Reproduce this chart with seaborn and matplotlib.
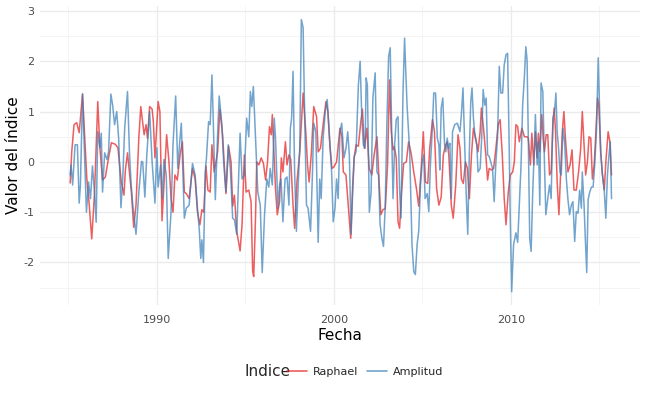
import numpy as np
import pandas as pd
import matplotlib
matplotlib.use("Agg")
import matplotlib.pyplot as plt
import seaborn as sns

# ---- data (decimal years) ----
raphael_t = [1985.10, 1985.19, 1985.32, 1985.47, 1985.61, 1985.80, 1986.04, 1986.18, 1986.32, 1986.48,
             1986.66, 1986.78, 1986.93, 1987.09, 1987.27, 1987.43, 1987.65, 1987.80, 1987.99, 1988.14,
             1988.22, 1988.34, 1988.56, 1988.69, 1988.82, 1988.98, 1989.09, 1989.28, 1989.39, 1989.47,
             1989.59, 1989.73, 1989.80, 1989.89, 1990.07, 1990.17, 1990.29, 1990.40, 1990.55, 1990.68,
             1990.80, 1990.91, 1991.02, 1991.15, 1991.31, 1991.44, 1991.55, 1991.66, 1991.82, 1992.01,
             1992.16, 1992.29, 1992.43, 1992.54, 1992.65, 1992.77, 1992.88, 1993.01, 1993.11, 1993.24,
             1993.43, 1993.56, 1993.71, 1993.90, 1994.05, 1994.19, 1994.28, 1994.38, 1994.51, 1994.70,
             1994.81, 1994.94, 1995.04, 1995.19, 1995.32, 1995.41, 1995.47, 1995.57, 1995.64, 1995.76,
             1995.89, 1996.02, 1996.14, 1996.25, 1996.36, 1996.46, 1996.52, 1996.61, 1996.70, 1996.80,
             1996.93, 1997.03, 1997.12, 1997.26, 1997.35, 1997.46, 1997.56, 1997.69, 1997.78, 1997.91,
             1998.07, 1998.26, 1998.41, 1998.51, 1998.60, 1998.73, 1998.86, 1999.02, 1999.11, 1999.24,
             1999.39, 1999.55, 1999.66, 1999.77, 1999.89, 2000.00, 2000.15, 2000.34, 2000.45, 2000.53,
             2000.68, 2000.81, 2000.95, 2001.06, 2001.14, 2001.25, 2001.38, 2001.52, 2001.61, 2001.72,
             2001.86, 2001.99, 2002.14, 2002.27, 2002.43, 2002.56, 2002.65, 2002.77, 2002.90, 2003.03,
             2003.14, 2003.24, 2003.34, 2003.41, 2003.52, 2003.62, 2003.71, 2003.82, 2003.94, 2004.09,
             2004.22, 2004.36, 2004.51, 2004.66, 2004.79, 2004.93, 2005.05, 2005.17, 2005.30, 2005.41,
             2005.57, 2005.68, 2005.80, 2005.93, 2006.06, 2006.18, 2006.31, 2006.40, 2006.49, 2006.63,
             2006.74, 2006.88, 2007.01, 2007.12, 2007.20, 2007.31, 2007.43, 2007.54, 2007.65, 2007.77,
             2007.88, 2008.01, 2008.14, 2008.26, 2008.33, 2008.45, 2008.58, 2008.68, 2008.77, 2008.90,
             2009.02, 2009.15, 2009.28, 2009.39, 2009.51, 2009.62, 2009.72, 2009.85, 2009.96, 2010.10,
             2010.19, 2010.28, 2010.38, 2010.47, 2010.62, 2010.76, 2010.91, 2010.98, 2011.10, 2011.18,
             2011.29, 2011.38, 2011.48, 2011.55, 2011.63, 2011.74, 2011.82, 2011.89, 2011.99, 2012.08,
             2012.18, 2012.27, 2012.37, 2012.44, 2012.52, 2012.61, 2012.71, 2012.80, 2012.90, 2012.99,
             2013.09, 2013.22, 2013.34, 2013.45, 2013.56, 2013.69, 2013.82, 2013.94, 2014.03, 2014.13,
             2014.22, 2014.32, 2014.41, 2014.51, 2014.60, 2014.70, 2014.77, 2014.89, 2014.96, 2015.07,
             2015.17, 2015.27, 2015.36, 2015.49, 2015.59, 2015.68]
raphael_v = [-0.42, 0.20, 0.74, 0.78, 0.58, 1.35, -0.32, -0.86, -1.53, -0.60,
             1.20, 0.28, -0.36, -0.30, 0.08, 0.38, 0.35, 0.28, -0.40, -0.66,
             -0.16, 0.18, -0.60, -1.30, -0.86, 0.48, 1.10, 0.54, 0.74, 0.47,
             1.10, 1.05, 0.80, 0.08, 1.20, 1.00, -1.17, -0.46, 0.54, 0.01,
             -0.73, -1.00, -0.26, -0.36, 0.14, 0.40, -0.60, -0.63, -0.73, -0.13,
             -0.34, -0.99, -1.25, -0.95, -1.00, -0.08, -0.56, -0.60, 0.34, -0.20,
             0.20, 1.05, 0.54, -0.63, 0.31, 0.00, -0.88, -0.66, -1.38, -1.77,
             -1.25, 0.14, -0.60, -0.56, -0.79, -2.18, -2.28, -1.12, 0.00, -0.06,
             0.08, -0.03, -0.36, 0.00, 0.70, 0.54, 0.94, 0.20, -0.53, -1.05,
             -0.79, 0.08, -0.20, 0.40, -0.06, 0.14, 0.05, -0.86, -1.32, -0.40,
             0.20, 1.37, 0.60, -0.06, -0.40, 0.20, 1.10, 0.90, 0.20, 0.27,
             0.74, 1.20, 1.00, 0.34, -0.13, -0.10, 0.00, 0.67, 0.50, -0.20,
             -0.26, -0.86, -1.52, -0.46, 0.08, 0.34, 0.31, 0.80, 1.05, 0.27,
             0.67, -0.13, -0.26, 0.14, 0.50, -0.46, -1.05, -0.95, -0.93, -0.06,
             1.63, 0.60, 0.24, 0.30, 0.08, -1.19, -1.32, -0.60, -0.03, 0.00,
             0.40, 0.17, -0.20, -0.53, -0.88, -0.13, 0.60, -0.40, -0.43, 0.27,
             0.84, 0.60, -0.53, -0.86, -0.70, 0.14, 0.34, 0.40, 0.14, -0.86,
             -1.12, -0.46, 0.54, 0.27, -0.34, -0.43, 0.00, -0.13, -0.73, 0.14,
             0.67, 0.47, 0.20, 0.60, 1.07, 0.67, 0.14, -0.36, -0.13, -0.16,
             -0.13, 0.27, 0.74, 0.84, 0.14, -0.73, -1.25, -0.60, -0.26, -0.20,
             0.00, 0.74, 0.70, 0.40, 0.67, 0.50, 0.50, 0.47, -0.06, 0.57,
             -0.06, 0.60, 0.08, 0.57, 0.20, 0.94, 0.47, 0.20, 0.54, 0.54,
             -0.26, -0.20, 0.74, 1.07, 0.60, -0.40, -1.05, -0.26, 0.60, 1.00,
             0.40, -0.20, -0.06, 0.24, -0.56, -0.56, -0.20, 0.27, 1.00, 0.34,
             -0.26, 0.00, 0.50, 0.47, -0.34, -0.06, 0.40, 1.27, 1.13, 0.20,
             -0.26, -0.56, 0.00, 0.60, 0.40, -0.26]

amplitud_t = [1985.10, 1985.15, 1985.24, 1985.38, 1985.51, 1985.61, 1985.68, 1985.80, 1986.02, 1986.14,
              1986.25, 1986.36, 1986.48, 1986.57, 1986.66, 1986.78, 1986.86, 1986.93, 1987.05, 1987.18,
              1987.27, 1987.40, 1987.50, 1987.61, 1987.73, 1987.84, 1987.97, 1988.07, 1988.18, 1988.34,
              1988.45, 1988.54, 1988.64, 1988.82, 1988.98, 1989.13, 1989.20, 1989.32, 1989.43, 1989.59,
              1989.73, 1989.89, 1990.00, 1990.07, 1990.21, 1990.30, 1990.40, 1990.53, 1990.64, 1990.80,
              1990.91, 1991.06, 1991.18, 1991.29, 1991.38, 1991.44, 1991.55, 1991.66, 1991.82, 1992.01,
              1992.16, 1992.29, 1992.39, 1992.48, 1992.54, 1992.63, 1992.73, 1992.80, 1992.92, 1993.01,
              1993.11, 1993.18, 1993.30, 1993.43, 1993.52, 1993.67, 1993.77, 1993.90, 1994.03, 1994.15,
              1994.28, 1994.38, 1994.51, 1994.70, 1994.81, 1994.94, 1995.07, 1995.19, 1995.28, 1995.36,
              1995.45, 1995.57, 1995.70, 1995.84, 1995.95, 1996.08, 1996.21, 1996.32, 1996.40, 1996.52,
              1996.63, 1996.70, 1996.84, 1996.93, 1997.01, 1997.12, 1997.24, 1997.35, 1997.46, 1997.54,
              1997.61, 1997.69, 1997.78, 1997.88, 1997.97, 1998.07, 1998.16, 1998.26, 1998.35, 1998.45,
              1998.54, 1998.68, 1998.79, 1998.86, 1998.98, 1999.11, 1999.20, 1999.28, 1999.39, 1999.51,
              1999.62, 1999.73, 1999.87, 1999.96, 2000.06, 2000.15, 2000.24, 2000.34, 2000.44, 2000.57,
              2000.68, 2000.78, 2000.87, 2000.97, 2001.06, 2001.15, 2001.25, 2001.38, 2001.48, 2001.57,
              2001.66, 2001.76, 2001.82, 2001.89, 2002.00, 2002.10, 2002.20, 2002.33, 2002.43, 2002.52,
              2002.61, 2002.71, 2002.80, 2002.90, 2002.99, 2003.09, 2003.18, 2003.28, 2003.34, 2003.43,
              2003.52, 2003.62, 2003.71, 2003.79, 2003.90, 2003.99, 2004.13, 2004.28, 2004.41, 2004.51,
              2004.60, 2004.70, 2004.79, 2004.89, 2004.98, 2005.07, 2005.15, 2005.27, 2005.36, 2005.45,
              2005.55, 2005.64, 2005.74, 2005.84, 2005.93, 2005.98, 2006.06, 2006.15, 2006.25, 2006.32,
              2006.40, 2006.48, 2006.55, 2006.63, 2006.70, 2006.82, 2006.97, 2007.12, 2007.20, 2007.29,
              2007.39, 2007.48, 2007.56, 2007.65, 2007.73, 2007.80, 2007.88, 2007.97, 2008.07, 2008.14,
              2008.26, 2008.35, 2008.43, 2008.52, 2008.60, 2008.68, 2008.77, 2008.86, 2008.96, 2009.05,
              2009.15, 2009.24, 2009.34, 2009.43, 2009.53, 2009.62, 2009.72, 2009.81, 2009.89, 2009.96,
              2010.04, 2010.15, 2010.28, 2010.38, 2010.47, 2010.57, 2010.66, 2010.76, 2010.84, 2010.91,
              2010.98, 2011.06, 2011.14, 2011.23, 2011.32, 2011.38, 2011.48, 2011.55, 2011.63, 2011.70,
              2011.80, 2011.89, 2011.97, 2012.08, 2012.18, 2012.27, 2012.37, 2012.46, 2012.54, 2012.61,
              2012.69, 2012.77, 2012.84, 2012.94, 2013.03, 2013.13, 2013.22, 2013.31, 2013.41, 2013.50,
              2013.60, 2013.69, 2013.79, 2013.88, 2013.98, 2014.03, 2014.13, 2014.20, 2014.28, 2014.36,
              2014.45, 2014.55, 2014.64, 2014.73, 2014.83, 2014.93, 2015.00, 2015.07, 2015.15, 2015.27,
              2015.36, 2015.45, 2015.53, 2015.61, 2015.68]
amplitud_v = [-0.26, -0.06, -0.46, 0.34, 0.34, -0.82, -0.46, 1.35, -1.00, -0.40,
              -0.73, -0.08, -0.63, -1.20, 0.60, 0.28, 0.57, -0.60, 0.18, 0.05,
              0.20, 1.35, 1.13, 0.74, 1.00, 0.47, -0.91, -0.34, 0.67, 1.40,
              0.20, -0.43, -0.86, -1.44, -0.60, 0.01, 0.00, -0.70, 0.14, 1.00,
              0.00, -0.82, 0.28, -0.50, -0.06, -0.73, 0.05, -0.26, -1.92, -0.99,
              0.34, 1.31, -0.13, 0.40, 0.77, 0.08, -1.12, -0.92, -0.86, -0.03,
              -0.26, -0.92, -1.32, -1.92, -1.55, -2.00, -0.20, 0.08, 0.80, 0.74,
              1.73, 0.87, -0.75, 0.54, 1.31, 0.74, 0.00, -0.60, 0.34, -0.13,
              -1.12, -1.15, -1.44, 0.57, -0.34, -0.26, 0.87, 0.50, 1.40, 1.10,
              1.50, 0.47, -0.60, -0.86, -2.20, -1.05, -0.34, -0.50, -0.13, -0.46,
              0.87, 0.47, -0.92, -0.46, -0.34, -1.19, -0.34, -0.30, -0.86, 0.67,
              0.87, 1.80, -0.20, -1.38, -0.56, 0.27, 2.83, 2.67, 0.87, -0.86,
              -0.92, -1.38, -0.20, 0.77, 0.60, -1.60, -0.34, -0.73, 0.47, 1.00,
              1.24, 0.60, -0.20, -1.19, -0.92, -0.34, -0.73, 0.60, 0.77, 0.08,
              0.27, 0.60, 0.14, -1.44, -0.60, 0.11, 0.20, 1.52, 2.00, 0.94,
              0.34, 0.27, 1.67, 1.52, -1.00, -0.60, 1.27, 1.77, -0.20, -0.26,
              -1.25, -1.52, -1.68, -0.86, 0.74, 2.10, 2.27, 0.27, -0.73, 0.34,
              0.84, 0.90, -0.56, -1.12, 1.34, 2.46, 1.13, 0.20, -1.64, -2.18,
              -2.24, -1.64, -1.38, -0.46, -0.03, 0.14, -0.73, -0.63, -0.99, -0.06,
              0.60, 1.37, 1.37, 0.47, 0.34, -0.16, 1.07, 1.27, 0.34, 0.20,
              0.47, 0.27, 0.37, -0.73, 0.60, 0.74, 0.77, 0.60, 0.94, 1.47,
              0.34, -0.73, -1.44, 0.20, 1.20, 1.47, 0.87, 0.50, 0.34, -0.20,
              -0.13, 0.50, 1.44, 1.13, 1.27, 0.14, 0.11, 0.00, -0.13, -0.79,
              0.00, 0.47, 1.90, 1.37, 1.37, 1.93, 2.13, 2.16, 0.54, -1.12,
              -2.58, -1.64, -1.41, -1.60, -0.86, -0.06, 1.13, 1.70, 2.29, 2.03,
              0.47, -1.52, -1.78, -0.60, 0.27, 0.94, -0.06, 0.40, -0.86, 1.57,
              1.40, 0.00, -1.05, -0.73, -0.46, -0.73, 0.87, 1.00, 1.37, 0.60,
              0.27, -0.20, -0.26, 0.67, 0.40, -0.34, -0.75, -1.05, -0.86, -0.79,
              -1.58, -0.99, -1.02, -0.56, -0.92, -0.20, -0.86, -1.52, -2.20, -0.75,
              -0.60, -0.50, -0.50, -0.06, 0.60, 2.07, 1.13, 0.20, -0.20, -0.56,
              -1.12, -0.26, 0.11, 0.40, -0.73]

series_names = ["Raphael", "Amplitud"]
series_colors = ["#E41A1C", "#377EB8"]

df = pd.concat([
    pd.DataFrame({"Fecha": raphael_t, "Valor": raphael_v, "Indice": series_names[0]}),
    pd.DataFrame({"Fecha": amplitud_t, "Valor": amplitud_v, "Indice": series_names[1]}),
], ignore_index=True)

sns.set_theme(style="white")
plt.rcParams["font.family"] = ["DejaVu Sans"]

fig = plt.figure(figsize=(6.46, 3.99), dpi=100)
ax = fig.add_axes([0.062, 0.235, 0.929, 0.75])

sns.lineplot(data=df, x="Fecha", y="Valor", hue="Indice", hue_order=series_names,
             palette=dict(zip(series_names, series_colors)), alpha=0.7,
             linewidth=1.1, ax=ax, sort=True, estimator=None)

ax.set_xlim(1983.4, 2017.3)
ax.set_ylim(-2.85, 3.1)
ax.set_xticks([1990, 2000, 2010])
ax.set_xticks([1985, 1995, 2005, 2015], minor=True)
ax.set_yticks([-2, -1, 0, 1, 2, 3])
ax.set_yticks([-2.5, -1.5, -0.5, 0.5, 1.5, 2.5], minor=True)
ax.set_yticklabels(["-2", "-1", "0", "1", "2", "3"])
ax.grid(which="major", color="#EBEBEB", linewidth=1.0)
ax.grid(which="minor", color="#F3F3F3", linewidth=0.6)
ax.set_axisbelow(True)
for s in ax.spines.values():
    s.set_visible(False)
ax.tick_params(which="both", length=0, labelsize=8, labelcolor="#4D4D4D", pad=4)
ax.tick_params(axis="x", pad=7)
ax.set_xlabel("Fecha", fontsize=11, color="black", labelpad=2)
ax.set_ylabel("Valor del índice", fontsize=11, color="black")
ax.yaxis.set_label_coords(-0.032, 0.5)

handles, labels = ax.get_legend_handles_labels()
ax.get_legend().remove()
for h in handles:
    h.set_linewidth(1.2)
fig.legend(handles, labels, loc="center", bbox_to_anchor=(0.565, 0.068), ncol=2,
           frameon=False, fontsize=8, handlelength=1.8, handletextpad=0.5,
           columnspacing=0.8)
fig.text(0.379, 0.068, "Indice", fontsize=11, ha="left", va="center")

fig.savefig("out.png", dpi=100, facecolor="white")
